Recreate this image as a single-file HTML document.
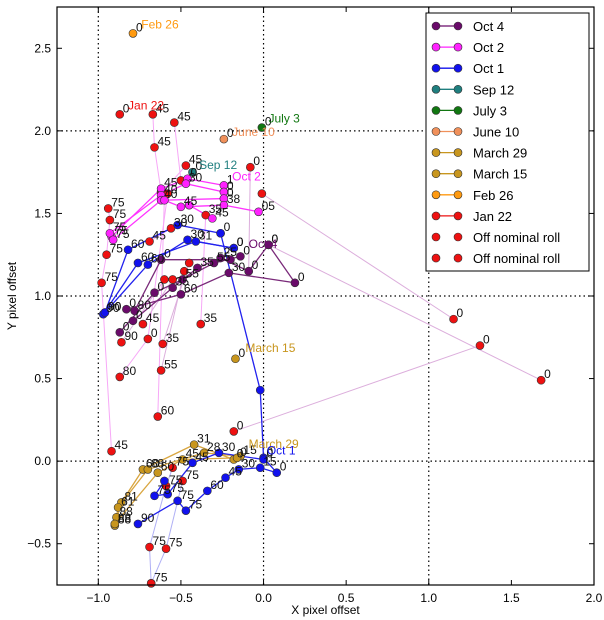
<!DOCTYPE html>
<html><head><meta charset="utf-8">
<style>
html,body{margin:0;padding:0;background:#fff;}
svg{display:block;font-family:"Liberation Sans",sans-serif;}
</style></head>
<body>
<svg id="chart" width="604" height="620" viewBox="0 0 604 620" xmlns="http://www.w3.org/2000/svg">
<g id="grid"></g><g id="lines"></g><g id="pts"></g><g id="lbls"></g><g id="axes"></g><g id="legend"></g>
</svg>
<script>
// ---- data ----
const xTicks = [-1.0,-0.5,0.0,0.5,1.0,1.5,2.0];
const yTicks = [-0.5,0.0,0.5,1.0,1.5,2.0,2.5];
const gridX = [-1,0,1];
const gridY = [0,1,2];
const seriesNames = ["Oct 4","Oct 2","Oct 1","Sep 12","July 3","June 10","March 29","March 15","Feb 26","Jan 22","Off nominal roll","Off nominal roll"];
const seriesColors = ["#6a0a6a","#ff22ff","#1111ee","#1f7f7f","#117711","#f0905a","#c8961e","#c8961e","#ff9a10","#ee1111","#ee1111","#ee1111"];

// off-nominal (light) runs
const offRuns = [
 {c:"#f7a8f7",p:[[-0.67,2.10],[-0.66,1.90],[-0.62,1.63]],l:["45","45",""]},
 {c:"#f7a8f7",p:[[-0.54,2.05],[-0.50,1.70]],l:["45",""]},
 {c:"#f7a8f7",p:[[-0.47,1.79],[-0.62,1.62]],l:["45",""]},
 {c:"#f7a8f7",p:[[-0.94,1.53],[-0.93,1.46],[-0.95,1.25],[-0.98,1.08],[-0.92,0.06]],l:["75","75","75","75","45"]},
 {c:"#f7a8f7",p:[[-0.60,1.60],[-0.64,0.27]],l:["","60"]},
 {c:"#f7a8f7",p:[[-0.58,1.62],[-0.70,0.74],[-0.87,0.51]],l:["","0","80"]},
 {c:"#f7a8f7",p:[[-0.35,1.49],[-0.38,0.83]],l:["35","35"]},
 {c:"#f7a8f7",p:[[-0.69,1.33],[-0.56,1.41]],l:["45","30"]},
 {c:"#dcaedc",p:[[-0.08,1.78],[-0.09,1.15]],l:["0",""]},
 {c:"#dcaedc",p:[[1.15,0.86],[-0.01,1.62]],l:["0",""]},
 {c:"#dcaedc",p:[[1.68,0.49],[0.03,1.31]],l:["0",""]},
 {c:"#dcaedc",p:[[1.31,0.70],[-0.18,0.18]],l:["0","0"]},
 {c:"#dcaedc",p:[[-0.61,0.71],[-0.45,1.20]],l:["35",""]},
 {c:"#dcaedc",p:[[-0.62,0.55],[-0.48,1.15]],l:["55",""]},
 {c:"#dcaedc",p:[[-0.86,0.72],[-0.60,1.10]],l:["90",""]},
 {c:"#dcaedc",p:[[-0.73,0.83],[-0.55,1.10]],l:["45",""]},
 {c:"#b0b0f5",p:[[-0.55,-0.04],[-0.59,-0.15],[-0.69,-0.52],[-0.68,-0.74]],l:["75","75","75","75"]},
 {c:"#b0b0f5",p:[[-0.49,-0.12],[-0.59,-0.53],[-0.68,-0.74]],l:["75","75",""]}
];
// nominal runs
const oct4Runs = [
 [[0.03,1.31],[0.19,1.08],[-0.21,1.14],[-0.50,1.01],[-0.83,0.92]],
 [[0.03,1.31],[-0.09,1.15],[-0.26,1.23],[-0.40,1.17],[-0.55,1.05],[-0.79,0.85]],
 [[-0.14,1.24],[-0.30,1.20],[-0.49,1.10],[-0.66,1.02],[-0.87,0.78]],
 [[-0.20,1.22],[-0.62,1.22],[-0.78,0.91]]
];
const oct4Labels = [["0","0","30","60","0"],["0","0","25","35","35","0"],["0","55","55","0","0"],["","0","80"]];
const oct2Runs = [
 [[-0.24,1.67],[-0.46,1.71],[-0.62,1.65],[-0.92,1.36]],
 [[-0.24,1.63],[-0.47,1.68],[-0.62,1.61],[-0.93,1.38]],
 [[-0.24,1.59],[-0.62,1.58],[-0.91,1.34]],
 [[-0.03,1.51],[-0.24,1.55],[-0.50,1.54],[-0.60,1.58]],
 [[-0.31,1.47],[-0.45,1.55]]
];
const oct2Labels = [["1","0","45","75"],["0","30","40","75"],["0","40","75"],["05","38","45",""],["45",""]];
const oct1Runs = [
 [[-0.26,1.38],[-0.52,1.43],[-0.82,1.28],[-0.96,0.90]],
 [[-0.18,1.29],[-0.41,1.33],[-0.76,1.20],[-0.97,0.89]],
 [[-0.18,1.29],[-0.46,1.34],[-0.70,1.19],[-0.96,0.90]],
 [[-0.26,1.38],[-0.02,0.43],[0.00,0.02],[0.08,-0.07],[-0.02,-0.04],[-0.15,-0.05],[-0.23,-0.10],[-0.34,-0.18],[-0.47,-0.30],[-0.52,-0.24],[-0.76,-0.38]],
 [[0.00,0.01],[-0.27,0.05],[-0.43,-0.01],[-0.58,-0.20],[-0.66,-0.21],[-0.60,-0.12]]
];
const oct1Labels = [["0","30","60","90"],["0","31","60","90"],["0","30","60","90"],["","","0","0","15","30","45","60","75","75","90"],["0","30","45","75","75",""]];
const goldRuns = [
 [[-0.18,0.01],[-0.42,0.10],[-0.73,-0.05],[-0.86,-0.25],[-0.90,-0.39]],
 [[-0.14,0.03],[-0.36,0.05],[-0.70,-0.05],[-0.88,-0.28],[-0.89,-0.34]],
 [[-0.16,0.02],[-0.49,0.01],[-0.64,-0.07],[-0.90,-0.38]]
];
const goldLabels = [["0","31","60","81","88"],["15","28","68","61","88"],["0","45","60","88"]];
const singles = [
 {n:"feb-26",c:"#ff9a10",p:[-0.79,2.59],l:"0"},
 {n:"jan-22",c:"#ee1111",p:[-0.87,2.10],l:"0"},
 {n:"june-10",c:"#f0905a",p:[-0.24,1.95],l:"0"},
 {n:"july-3",c:"#117711",p:[-0.01,2.02],l:"0"},
 {n:"sep-12",c:"#1f7f7f",p:[-0.43,1.75],l:"0"},
 {n:"march-15",c:"#c8961e",p:[-0.17,0.62],l:"0"}
];
const dateLabels = [
 ["Feb 26",-0.74,2.62,"#ff9a10"],["Jan 22",-0.82,2.13,"#ee1111"],["July 3",0.03,2.05,"#117711"],
 ["June 10",-0.19,1.97,"#f0905a"],["Sep 12",-0.39,1.77,"#1f7f7f"],["Oct 2",-0.19,1.70,"#ff22ff"],
 ["Oct 4",-0.09,1.29,"#6a0a6a"],["March 15",-0.11,0.66,"#c8961e"],["March 29",-0.09,0.08,"#c8961e"],["Oct 1",0.02,0.04,"#1111ee"]
];

// ---- scales ----
const X0=57,X1=594,Y0=7,Y1=585;
const xmin=-1.25,xmax=2.0,ymin=-0.75,ymax=2.75;
const sx=v=>X0+(v-xmin)/(xmax-xmin)*(X1-X0);
const sy=v=>Y1-(v-ymin)/(ymax-ymin)*(Y1-Y0);
const NS="http://www.w3.org/2000/svg";
function mk(tag,attrs,parent){const e=document.createElementNS(NS,tag);for(const k in attrs)e.setAttribute(k,attrs[k]);parent.appendChild(e);return e;}
const G=id=>document.getElementById(id);

// grid
gridX.forEach(v=>{const e=mk("line",{x1:sx(v),x2:sx(v),y1:Y0,y2:Y1,stroke:"#000","stroke-width":1.2,"stroke-dasharray":"1.5,3"},G("grid"));

});
gridY.forEach(v=>{const e=mk("line",{x1:X0,x2:X1,y1:sy(v),y2:sy(v),stroke:"#000","stroke-width":1.2,"stroke-dasharray":"1.5,3"},G("grid"));

});

function drawRun(pts,labels,lineColor,ptColor,name,w){
  const pl=mk("polyline",{points:pts.map(p=>sx(p[0])+","+sy(p[1])).join(" "),fill:"none",stroke:lineColor,"stroke-width":w},G("lines"));
  
  
  pts.forEach((p,i)=>{
    const c=mk("circle",{cx:sx(p[0]),cy:sy(p[1]),r:4,fill:ptColor,stroke:"#333","stroke-width":0.6},G("pts"));
    
    
    if(labels&&labels[i]){const t=mk("text",{x:sx(p[0])+3,y:sy(p[1])-2,"font-size":12,fill:"#111"},G("lbls"));t.textContent=labels[i];
    
    }
  });
}
offRuns.forEach(r=>drawRun(r.p,r.l,r.c,"#ee1111","off-nominal-roll",1));
goldRuns.forEach((r,i)=>drawRun(r,goldLabels[i],"#d9a640","#c8961e","march-29",1.3));
oct4Runs.forEach((r,i)=>drawRun(r,oct4Labels[i],"#7a2a7a","#6a0a6a","oct-4",1.3));
oct2Runs.forEach((r,i)=>drawRun(r,oct2Labels[i],"#ff33ff","#ff22ff","oct-2",1.3));
oct1Runs.forEach((r,i)=>drawRun(r,oct1Labels[i],"#2222ee","#1111ee","oct-1",1.3));
singles.forEach(s=>drawRun([s.p],[s.l],s.c,s.c,s.n,1));
dateLabels.forEach(d=>{const t=mk("text",{x:sx(d[1]),y:sy(d[2]),"font-size":12,fill:d[3]},G("lbls"));t.textContent=d[0];

});

// axes
const ax=G("axes");
const fr=mk("rect",{x:X0,y:Y0,width:X1-X0,height:Y1-Y0,fill:"none",stroke:"#000","stroke-width":1.2},ax);


xTicks.forEach(v=>{
  mk("line",{x1:sx(v),x2:sx(v),y1:Y1,y2:Y1-5,stroke:"#000"},ax);
  mk("line",{x1:sx(v),x2:sx(v),y1:Y0,y2:Y0+5,stroke:"#000"},ax);
  const t=mk("text",{x:sx(v),y:Y1+17,"font-size":12,"text-anchor":"middle",fill:"#000"},ax);
  t.textContent=(v<0?"\u2212":"")+Math.abs(v).toFixed(1);
  
  
});
yTicks.forEach(v=>{
  mk("line",{x1:X0,x2:X0+5,y1:sy(v),y2:sy(v),stroke:"#000"},ax);
  mk("line",{x1:X1,x2:X1-5,y1:sy(v),y2:sy(v),stroke:"#000"},ax);
  const t=mk("text",{x:X0-6,y:sy(v)+4,"font-size":12,"text-anchor":"end",fill:"#000"},ax);
  t.textContent=(v<0?"\u2212":"")+Math.abs(v).toFixed(1);
  
  
});
const xt=mk("text",{x:(X0+X1)/2,y:614,"font-size":12,"text-anchor":"middle"},ax);xt.textContent="X pixel offset";


const yt=mk("text",{x:16,y:(Y0+Y1)/2,"font-size":12,"text-anchor":"middle",transform:"rotate(-90 16 "+((Y0+Y1)/2)+")"},ax);yt.textContent="Y pixel offset";



// legend
const lg=G("legend");
const lb=mk("rect",{x:426,y:13,width:163,height:258,fill:"#fff",stroke:"#000","stroke-width":1},lg);


seriesNames.forEach((n,i)=>{
  const y=26+i*21.1;
  const g=mk("g",{},lg);
  
  
  if(i<10) mk("line",{x1:436,x2:458,y1:y,y2:y,stroke:seriesColors[i],"stroke-width":1.3},g);
  mk("circle",{cx:436,cy:y,r:4,fill:seriesColors[i],stroke:"#333","stroke-width":0.6},g);
  mk("circle",{cx:458,cy:y,r:4,fill:seriesColors[i],stroke:"#333","stroke-width":0.6},g);
  const t=mk("text",{x:473,y:y+5,"font-size":13,fill:"#000"},g);t.textContent=n;
});
</script>
</body></html>
